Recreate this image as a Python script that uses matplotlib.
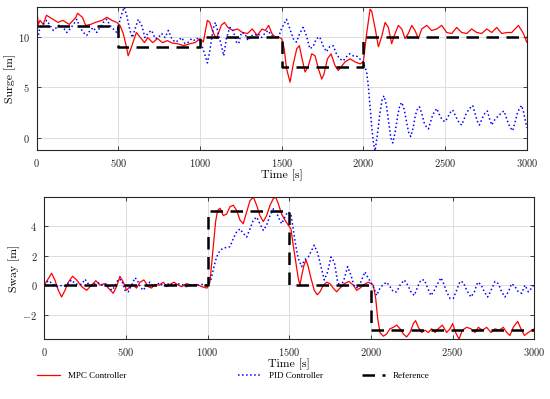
import numpy as np
import matplotlib
matplotlib.use('Agg')
import matplotlib.pyplot as plt

# ****************** data ******************
# Surge, MPC controller
surge_mpc_t = [0, 10, 20, 40, 60, 80, 100, 130, 160, 200, 240, 250, 280, 300, 330, 360, 400, 430, 460, 490,
               510, 530, 550, 560, 580, 610, 640, 660, 680, 710, 740, 770, 800, 830, 860, 900, 940, 970, 1000,
               1020, 1045, 1060, 1080, 1100, 1130, 1150, 1170, 1200, 1230, 1260, 1290, 1320, 1350, 1380, 1400,
               1420, 1440, 1460, 1480, 1500, 1515, 1530, 1551, 1571, 1592, 1608, 1622, 1643, 1663, 1684, 1704,
               1725, 1745, 1759, 1780, 1802, 1827, 1847, 1868, 1888, 1918, 1949, 1980, 2000, 2020, 2041, 2051,
               2071, 2092, 2112, 2133, 2153, 2173, 2194, 2214, 2235, 2255, 2275, 2296, 2316, 2337, 2357, 2388,
               2418, 2449, 2480, 2510, 2541, 2571, 2602, 2633, 2663, 2694, 2724, 2755, 2786, 2816, 2847, 2878,
               2908, 2949, 2980, 3000]
surge_mpc = [12.7, 11.2, 11.6, 11.2, 12.1, 11.9, 11.7, 11.4, 11.6, 11.2, 11.9, 12.3, 11.9, 11.1, 11.2, 11.4, 11.6,
             11.9, 11.6, 11.4, 11.1, 10.3, 8.95, 8.1, 8.95, 10.4, 9.8, 9.4, 9.9, 9.4, 9.8, 9.4, 9.6, 9.35, 9.3,
             9.1, 9.3, 9.4, 9.8, 9.45, 11.6, 11.4, 10.4, 9.8, 11.1, 11.4, 10.9, 10.6, 10.75, 10.4, 10.3, 10.75,
             10.1, 10.75, 10.6, 11.1, 10.3, 9.95, 9.95, 9.8, 8.8, 6.8, 5.5, 7.3, 8.8, 9.1, 8.0, 6.5, 7.1, 8.3,
             8.1, 6.8, 5.8, 6.3, 7.8, 8.3, 7.1, 6.65, 7.1, 7.5, 7.8, 7.5, 7.3, 7.5, 10.3, 12.7, 12.5, 10.9, 9.0,
             10.0, 11.4, 10.9, 9.3, 10.3, 11.1, 10.75, 9.8, 10.3, 11.1, 10.6, 9.8, 10.75, 11.1, 10.6, 10.75,
             11.1, 10.4, 10.3, 10.9, 10.4, 10.3, 10.75, 10.4, 10.3, 10.75, 10.4, 10.9, 10.3, 10.4, 10.4, 11.1,
             10.3, 9.45]

# Surge, PID controller
surge_pid_t = [0, 10, 20, 41, 61, 82, 102, 122, 143, 163, 184, 204, 225, 245, 265, 286, 306, 327, 347, 367, 388,
               408, 429, 449, 469, 490, 506, 520, 535, 551, 571, 586, 602, 622, 643, 663, 684, 704, 725, 745, 765,
               786, 806, 827, 847, 867, 888, 908, 929, 949, 969, 990, 1018, 1045, 1059, 1080, 1094, 1110, 1131,
               1145, 1161, 1182, 1202, 1223, 1237, 1253, 1274, 1294, 1314, 1335, 1355, 1376, 1396, 1416, 1437,
               1457, 1478, 1498, 1519, 1529, 1547, 1570, 1590, 1610, 1631, 1651, 1672, 1692, 1712, 1733, 1753,
               1774, 1794, 1815, 1835, 1855, 1876, 1896, 1917, 1937, 1957, 1978, 1998, 2020, 2031, 2041, 2051,
               2060, 2071, 2085, 2100, 2115, 2126, 2140, 2155, 2168, 2180, 2195, 2210, 2223, 2235, 2250, 2265,
               2278, 2290, 2305, 2318, 2330, 2343, 2358, 2372, 2385, 2398, 2412, 2425, 2437, 2449, 2462, 2475,
               2488, 2500, 2512, 2525, 2536, 2547, 2560, 2575, 2590, 2602, 2615, 2630, 2645, 2656, 2669, 2682,
               2696, 2710, 2722, 2735, 2747, 2759, 2772, 2786, 2800, 2815, 2830, 2845, 2861, 2875, 2888, 2900,
               2914, 2928, 2942, 2955, 2969, 2980, 2990, 3000]
surge_pid = [10.4, 10.1, 10.9, 11.2, 11.6, 11.1, 10.6, 10.9, 11.2, 10.9, 10.4, 10.75, 11.2, 11.7, 10.9, 10.4,
             10.1, 10.6, 10.9, 10.4, 10.9, 11.4, 11.7, 11.1, 10.75, 10.4, 11.4, 12.2, 12.9, 12.1, 10.6, 9.9,
             10.75, 11.7, 11.1, 9.9, 10.4, 10.6, 9.8, 9.9, 10.3, 9.9, 10.6, 9.8, 9.45, 9.6, 9.9, 9.3, 9.45, 9.8,
             9.6, 9.9, 8.8, 7.4, 8.5, 10.75, 11.4, 10.4, 9.1, 8.1, 9.8, 10.9, 10.6, 9.45, 9.3, 10.4, 10.3, 9.6,
             10.1, 10.1, 10.3, 9.9, 10.3, 10.6, 10.1, 9.95, 9.8, 10.75, 11.4, 11.7, 10.9, 9.8, 9.45, 10.3, 10.9,
             10.1, 8.8, 9.0, 9.8, 9.95, 9.1, 8.5, 9.0, 9.1, 8.3, 7.8, 7.6, 8.0, 8.3, 8.1, 8.1, 7.8, 7.5, 6.5,
             5.0, 3.05, 1.1, -0.3, -1.3, 0.2, 2.3, 3.8, 4.15, 3.3, 1.5, 0.0, -0.5, 0.6, 2.2, 3.2, 3.5, 2.8, 1.5,
             0.5, 0.13, 1.0, 2.2, 2.8, 3.07, 2.4, 1.5, 1.1, 0.88, 1.6, 2.3, 2.6, 2.9, 2.4, 2.0, 1.7, 1.6, 1.9,
             2.3, 2.6, 2.75, 2.3, 1.8, 1.4, 1.27, 1.8, 2.4, 2.8, 3.0, 3.2, 2.5, 1.7, 1.27, 1.7, 2.2, 2.5, 2.65,
             1.9, 1.27, 1.7, 2.0, 2.2, 2.5, 2.65, 2.0, 1.4, 1.0, 0.7, 1.5, 2.4, 2.9, 3.2, 2.6, 1.8, 1.0]

# Sway, MPC controller
sway_mpc_t = [0, 20, 45, 65, 86, 106, 127, 147, 173, 198, 229, 259, 290, 316, 341, 367, 392, 422, 443, 463, 484,
              504, 524, 545, 565, 586, 610, 637, 657, 678, 704, 729, 749, 769, 794, 820, 841, 871, 902, 933, 963,
              996, 1014, 1035, 1049, 1061, 1076, 1096, 1116, 1137, 1157, 1178, 1198, 1218, 1239, 1259, 1280,
              1300, 1320, 1341, 1361, 1382, 1402, 1416, 1433, 1453, 1473, 1494, 1510, 1524, 1539, 1555, 1565,
              1576, 1590, 1602, 1616, 1633, 1653, 1671, 1688, 1708, 1729, 1749, 1769, 1790, 1810, 1837, 1865,
              1892, 1912, 1933, 1959, 1984, 2000, 2014, 2029, 2041, 2055, 2076, 2096, 2116, 2137, 2157, 2178,
              2198, 2218, 2239, 2259, 2273, 2290, 2310, 2331, 2351, 2371, 2392, 2412, 2437, 2463, 2484, 2500,
              2518, 2539, 2559, 2586, 2612, 2637, 2657, 2682, 2708, 2735, 2759, 2784, 2810, 2831, 2851, 2871,
              2898, 2918, 2939, 2963, 2984, 3000]
sway_mpc = [0, 0.35, 0.8, 0.35, -0.35, -0.8, -0.35, 0.2, 0.6, 0.35, -0.1, -0.35, 0, 0.3, 0, 0.1, -0.2, -0.55,
            -0.1, 0.6, 0.2, -0.35, -0.1, 0, -0.2, 0.2, 0.35, -0.1, -0.2, 0.05, 0, 0.2, -0.1, 0.05, 0.2, 0, -0.1,
            0.1, 0, 0.05, -0.1, -0.2, 0.2, 2.7, 4.3, 5.05, 5.2, 4.7, 4.8, 5.3, 5.4, 5.05, 4.4, 4.15, 4.95, 5.7,
            5.95, 5.4, 4.7, 4.3, 4.7, 5.4, 5.85, 5.95, 5.5, 4.8, 4.4, 4.05, 3.8, 2.7, 1.6, 0.45, 0, 0.65, 1.35,
            1.7, 1.25, 0.45, -0.35, -0.65, -0.45, 0, 0.2, 0.1, -0.2, -0.45, -0.2, 0.1, 0.25, 0, -0.35, -0.2,
            0.05, 0.2, 0.1, 0, -0.9, -2.25, -3.2, -3.45, -3.3, -2.95, -2.85, -2.7, -2.95, -3.3, -3.5, -3.2,
            -2.6, -2.4, -2.85, -3.2, -3.05, -3.2, -2.95, -3.2, -2.95, -2.7, -3.2, -2.95, -2.6, -3.2, -3.65,
            -3.05, -2.85, -2.95, -3.2, -2.85, -3.05, -2.85, -3.2, -2.95, -3.05, -2.85, -3.2, -3.4, -2.85,
            -2.45, -2.95, -3.4, -3.2, -3.05, -2.95]

# Sway, PID controller
sway_pid_t = [0, 24, 51, 76, 96, 116, 137, 167, 188, 208, 229, 249, 269, 290, 310, 331, 351, 371, 392, 412, 433,
              453, 473, 494, 514, 535, 555, 569, 586, 606, 627, 647, 667, 688, 708, 729, 749, 769, 790, 810, 841,
              871, 902, 933, 963, 994, 1020, 1041, 1055, 1076, 1096, 1116, 1137, 1157, 1178, 1198, 1218, 1239,
              1259, 1280, 1300, 1320, 1341, 1361, 1382, 1402, 1416, 1433, 1453, 1473, 1490, 1510, 1524, 1539,
              1555, 1576, 1592, 1616, 1637, 1653, 1674, 1694, 1714, 1735, 1755, 1776, 1796, 1816, 1837, 1857,
              1878, 1898, 1922, 1943, 1963, 1984, 2000, 2014, 2035, 2055, 2076, 2096, 2116, 2137, 2157, 2178,
              2204, 2225, 2245, 2265, 2286, 2306, 2327, 2347, 2367, 2388, 2408, 2429, 2445, 2463, 2484, 2504,
              2524, 2545, 2565, 2586, 2612, 2633, 2653, 2673, 2694, 2714, 2735, 2759, 2780, 2800, 2820, 2841,
              2861, 2882, 2902, 2922, 2943, 2963, 2984, 3000]
sway_pid = [0, 0.3, 0.1, -0.1, 0, -0.1, 0, 0.35, 0.1, 0.05, 0.05, 0.4, 0.1, -0.05, 0.1, 0.15, 0, 0.1, 0, -0.35,
            -0.1, 0.4, 0.35, -0.35, -0.45, 0, 0.5, 0.35, -0.1, -0.35, 0, 0.2, -0.1, 0.05, 0.15, -0.1, 0.05, 0.1,
            -0.05, 0.1, 0.05, -0.1, 0.05, 0, 0.05, 0, 0.35, 1.35, 1.9, 2.35, 2.5, 2.55, 2.6, 3.15, 3.6, 3.8,
            3.5, 3.25, 3.8, 4.4, 4.6, 4.15, 3.7, 4.05, 4.7, 5.15, 5.05, 4.6, 4.15, 4.6, 4.95, 4.8, 3.8, 2.7,
            1.8, 1.25, 1.7, 1.9, 2.35, 2.7, 2.15, 1.25, 0.35, 0.9, 1.9, 1.55, 0.2, -0.1, 0.45, 1.25, 0.65,
            -0.1, -0.2, 0.35, 0.9, 0.45, 0.2, -0.1, -0.7, -0.2, 0.05, 0.2, -0.1, -0.45, -0.45, 0, 0.35, 0,
            -0.45, -0.7, -0.1, 0.35, 0.35, -0.2, -0.7, -0.35, 0.1, 0.5, 0.1, -0.45, -0.9, -0.9, -0.35, 0.25,
            0.2, -0.35, -0.8, -0.45, 0.2, 0.05, -0.45, -0.8, -0.35, 0.25, 0.1, -0.45, -0.8, -0.45, 0.1, -0.1,
            -0.45, -0.55, 0, -0.45, -0.2, 0.1]

# Reference set-points (step, held until next time)
ref_t = [0, 500, 1000, 1500, 2000, 3000]
surge_ref = [11, 9, 10, 7, 10, 10]
sway_ref = [0, 0, 5, 0, -3, -3]

# ****************** figure ******************
plt.rcParams['font.family'] = 'cmr10'
plt.rcParams['mathtext.fontset'] = 'cm'
plt.rcParams['axes.formatter.use_mathtext'] = True

fig = plt.figure(figsize=(5.5, 3.99), dpi=100)
ax1 = fig.add_axes([0.0667, 0.624, 0.891, 0.358])
ax2 = fig.add_axes([0.0805, 0.150, 0.891, 0.356])

def style_axes(ax):
    ax.grid(True, color='#dddddd', linewidth=0.7)
    ax.set_axisbelow(True)
    for spine in ['top', 'bottom', 'left', 'right']:
        ax.spines[spine].set_color('#262626')
        ax.spines[spine].set_linewidth(0.8)
    ax.tick_params(direction='in', top=True, right=True, length=3, width=0.6,
                   labelsize=7.5, colors='#262626', labelcolor='#262626', pad=5)
    ax.set_xlim(0, 3000)
    ax.set_xticks(np.arange(0, 3001, 500))
    ax.set_xlabel('Time [s]', fontsize=8.5, labelpad=0.5)

# Surge
l1, = ax1.plot(surge_mpc_t, surge_mpc, color='#ff0000', linewidth=0.9, label='MPC Controller')
l2, = ax1.plot(surge_pid_t, surge_pid, color='#0000ff', linewidth=1.1, linestyle=':', label='PID Controller')
l3, = ax1.step(ref_t, surge_ref, where='post', color='k', linewidth=1.8, dashes=(5, 3), label='Reference')
ax1.set_ylim(-1.2, 12.9)
ax1.set_yticks([0, 5, 10])
ax1.set_ylabel('Surge [m]', fontsize=8.5, labelpad=1.5)
style_axes(ax1)

# Sway
ax2.plot(sway_mpc_t, sway_mpc, color='#ff0000', linewidth=0.9)
ax2.plot(sway_pid_t, sway_pid, color='#0000ff', linewidth=1.1, linestyle=':')
ax2.step(ref_t, sway_ref, where='post', color='k', linewidth=1.8, dashes=(5, 3))
ax2.set_ylim(-3.65, 5.95)
ax2.set_yticks([-2, 0, 2, 4])
ax2.set_ylabel('Sway [m]', fontsize=8.5, labelpad=1.5)
style_axes(ax2)

# legend entries are spread unevenly, so one small legend per entry
legend_x = [37 / 550, 238 / 550, 362 / 550]
for handle, lx in zip([l1, l2, l3], legend_x):
    fig.legend(handles=[handle], loc='center left', bbox_to_anchor=(lx, 0.0576), frameon=False,
               prop={'family': 'Liberation Serif', 'size': 6.5}, handlelength=2.5, handletextpad=0.9,
               borderpad=0, borderaxespad=0)

fig.savefig('out.png', dpi=100)
